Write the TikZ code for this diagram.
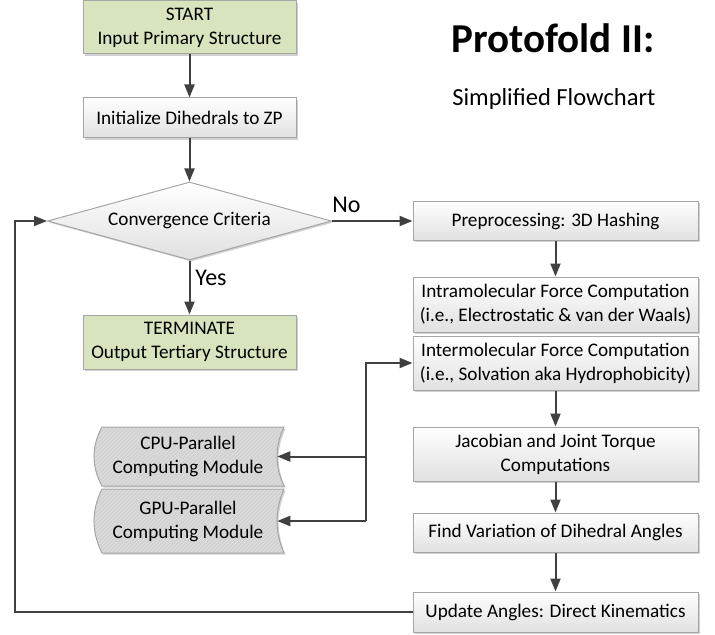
\documentclass[tikz,border=0pt]{standalone}
\usepackage{fontspec}
\setmainfont{Carlito}
\usetikzlibrary{arrows.meta,shapes.geometric,shadows,patterns}
\definecolor{greenfill}{HTML}{D7E4BD}
\definecolor{bordergray}{HTML}{A6A6A6}
\definecolor{linegray}{HTML}{404040}
\definecolor{modfill}{HTML}{D2D2D2}
\definecolor{hatchcol}{HTML}{E2E2E2}
\begin{document}
\begin{tikzpicture}[x=0.75pt,y=-0.75pt,
  lbl/.style={font=\fontsize{14.4}{18}\selectfont},
  sh/.style={drop shadow={shadow xshift=1.2pt,shadow yshift=-1.2pt,fill=black,opacity=0.18}},
  boxbase/.style={rectangle,draw=bordergray,line width=0.75pt,align=center,inner sep=0pt,lbl,sh},
  graybox/.style={boxbase,top color=white,bottom color=black!12,minimum width=285*0.75pt},
  greenbox/.style={boxbase,fill=greenfill,minimum width=213*0.75pt},
  modshape/.style={draw=bordergray,line width=0.75pt,sh,preaction={fill=modfill},pattern=north east lines,pattern color=hatchcol},
  modtext/.style={rectangle,inner sep=0pt,align=center,lbl,minimum width=178*0.75pt},
  arr/.style={draw=linegray,line width=1.5pt,-{Triangle[length=9.75pt,width=7.5pt]}},
  tag/.style={font=\fontsize{18}{22}\selectfont,inner sep=0pt,anchor=base west}]
\useasboundingbox (0,0) rectangle (715,635);

% title
\node[anchor=base west,inner sep=0pt,font=\fontsize{30.8}{36}\selectfont\bfseries] (title) at (451,53) {Protofold II:};
\node[anchor=base west,inner sep=0pt,font=\fontsize{18.4}{22}\selectfont] (subtitle) at (452,106) {Simplified Flowchart};

% left column
\node[greenbox,minimum height=53*0.75pt] (start) at (189.5,27.5) {START\\Input Primary Structure};
\node[graybox,minimum width=213*0.75pt,minimum height=40*0.75pt] (init) at (189.5,118) {Initialize Dihedrals to ZP};
\node[diamond,draw=bordergray,line width=0.75pt,top color=white,bottom color=black!12,inner sep=0pt,aspect=3.64,
  minimum width=284*0.75pt,minimum height=78*0.75pt,lbl,sh] (conv) at (189.5,221) {Convergence Criteria};
\node[greenbox,minimum height=54*0.75pt] (term) at (189.5,342) {TERMINATE\\Output Tertiary Structure};

% computing modules
\path[modshape] (102,427) -- (284,427) .. controls (274.67,446.7) and (274.67,466.3) .. (284,486)
  -- (102,486) .. controls (91.33,466.3) and (91.33,446.7) .. (102,427) -- cycle;
\path[modshape] (102,489) -- (284,489) .. controls (274.67,510.3) and (274.67,531.7) .. (284,553)
  -- (102,553) .. controls (91.33,531.7) and (91.33,510.3) .. (102,489) -- cycle;
\node[modtext,minimum height=59*0.75pt] (cpu) at (188,456.5) {CPU-Parallel\\Computing Module};
\node[modtext,minimum height=64*0.75pt] (gpu) at (188,521) {GPU-Parallel\\Computing Module};

% right column
\node[graybox,minimum height=39*0.75pt] (pre) at (555.5,221) {Preprocessing: 3D Hashing};
\node[graybox,minimum height=55*0.75pt] (intra) at (555.5,304.5) {Intramolecular Force Computation\\(i.e., Electrostatic \& van der Waals)};
\node[graybox,minimum height=54*0.75pt] (inter) at (555.5,363) {Intermolecular Force Computation\\(i.e., Solvation aka Hydrophobicity)};
\node[graybox,minimum height=54*0.75pt] (jac) at (555.5,454) {Jacobian and Joint Torque\\Computations};
\node[graybox,minimum height=39*0.75pt] (find) at (555.5,532.5) {Find Variation of Dihedral Angles};
\node[graybox,minimum height=40*0.75pt] (upd) at (555.5,612) {Update Angles: Direct Kinematics};

% connectors
\draw[arr] (start.south) -- (init.north);
\draw[arr] (init.south) -- (conv.north);
\draw[arr] (conv.south) -- (term.north);
\draw[arr] (conv.east) -- (pre.west);
\draw[arr] (pre.south) -- (intra.north);
\draw[arr] (inter.south) -- (jac.north);
\draw[arr] (jac.south) -- (find.north);
\draw[arr] (find.south) -- (upd.north);
\coordinate (loopc) at (15,221);
\draw[arr] (upd.west) -| (loopc) -- (conv.west);
\coordinate (bus) at (366,521);
\draw[arr] (bus) |- (inter.west);
\draw[arr] (bus) -- (gpu.east);
\draw[arr] (bus |- cpu.east) -- (cpu.east);

% labels
\node[tag] (no) at (332,213) {No};
\node[tag] (yes) at (195,285) {Yes};
\end{tikzpicture}
\end{document}
